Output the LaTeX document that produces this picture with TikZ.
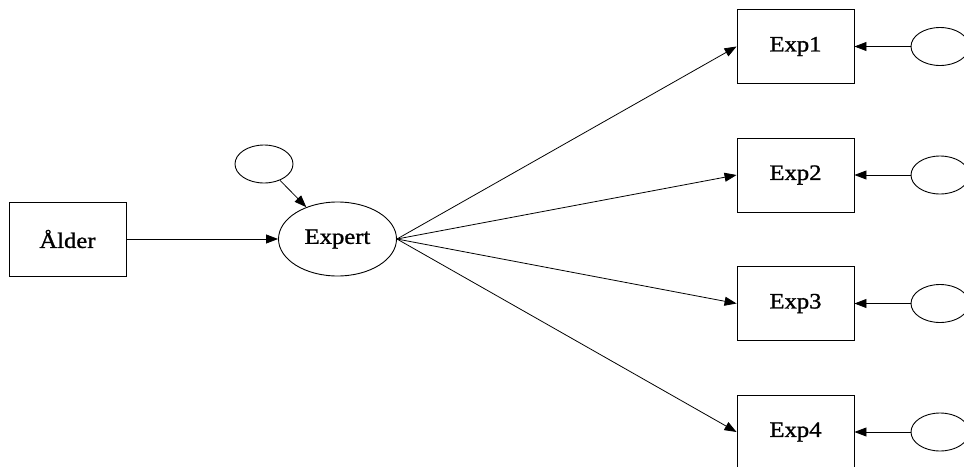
\documentclass[tikz,border=0pt]{standalone}
\usepackage{fontspec}
\setmainfont{Liberation Serif}[FakeStretch=1.12,FakeBold=1.2]
\usetikzlibrary{arrows.meta,shapes.geometric}
\begin{document}
\begin{tikzpicture}[x=1pt,y=-1pt,
  every node/.style={font=\fontsize{22}{24}\selectfont},
  obs/.style={draw, line width=0.9pt, minimum width=117pt, minimum height=74pt, inner sep=0pt},
  lat/.style={draw, ellipse, line width=0.9pt, minimum width=118pt, minimum height=74pt, inner sep=0pt},
  err/.style={draw, ellipse, line width=0.9pt, minimum width=58pt, minimum height=38pt, inner sep=0pt},
  conn/.style={line width=0.8pt, -{Triangle[length=12pt,width=9pt]}}]
\useasboundingbox (0,0) rectangle (964,466);
\clip (0,0) rectangle (964,466);
\node[obs] (alder) at (67.5,239) {Ålder};
\node[lat] (expert) at (337.5,239) {Expert};
\node[err] (e0) at (264,164) {};
\node[obs] (x1) at (795.5,46.5) {Exp1};
\node[obs] (x2) at (795.5,175) {Exp2};
\node[obs] (x3) at (795.5,303.5) {Exp3};
\node[obs] (x4) at (795.5,432) {Exp4};
\node[err] (u1) at (940,46.5) {};
\node[err] (u2) at (940,175) {};
\node[err] (u3) at (940,303.5) {};
\node[err] (u4) at (940,432) {};
\draw[conn] (alder) -- (expert);
\draw[conn] (e0) -- (expert);
\draw[conn] (expert.east) -- (x1.west);
\draw[conn] (expert.east) -- (x2.west);
\draw[conn] (expert.east) -- (x3.west);
\draw[conn] (expert.east) -- (x4.west);
\draw[conn] (u1) -- (x1);
\draw[conn] (u2) -- (x2);
\draw[conn] (u3) -- (x3);
\draw[conn] (u4) -- (x4);
\end{tikzpicture}
\end{document}
